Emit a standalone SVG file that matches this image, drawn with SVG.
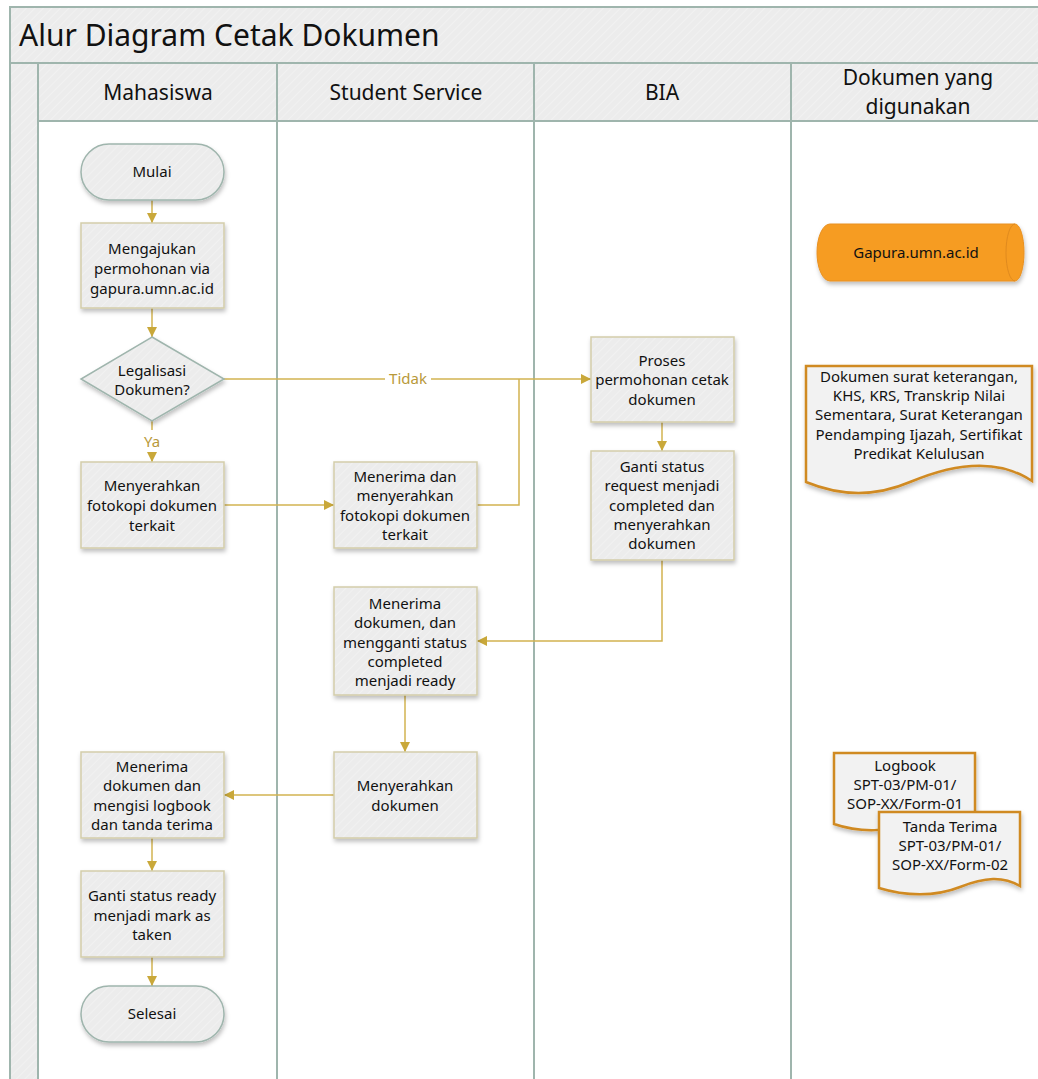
<svg xmlns="http://www.w3.org/2000/svg" width="1038" height="1079" viewBox="0 0 1038 1079">
<defs>
<pattern id="hatch" width="6" height="6" patternUnits="userSpaceOnUse" patternTransform="rotate(45)">
<rect width="6" height="6" fill="#ececec"/>
<line x1="0" y1="0" x2="0" y2="6" stroke="#f3f3f3" stroke-width="1.5"/>
</pattern>
<filter id="sh" x="-10%" y="-10%" width="130%" height="130%">
<feDropShadow dx="1" dy="3" stdDeviation="2" flood-color="#000" flood-opacity="0.25"/>
</filter>
<marker id="ah" viewBox="0 0 10 10" refX="10" refY="5" markerWidth="10" markerHeight="10" markerUnits="userSpaceOnUse" orient="auto">
<path d="M0,0 L10,5 L0,10 Z" fill="#c9a83a"/>
</marker>
<style>
.lane{fill:none;stroke:#9fb5ad;stroke-width:2}
.hdr{font-family:"Noto Sans","Open Sans",sans-serif;font-size:21px;fill:#111;text-anchor:middle}
.t{font-family:"Noto Sans","Open Sans",sans-serif;font-size:15px;fill:#111;text-anchor:middle}
.box{fill:url(#hatch);stroke:#d3cdaa;stroke-width:1.5;filter:url(#sh)}
.term{fill:url(#hatch);stroke:#9fb5ad;stroke-width:1.5;filter:url(#sh)}
.doc{fill:#f2f2f2;stroke:#d08a22;stroke-width:2.5;filter:url(#sh)}
.c{fill:none;stroke:#d2b350;stroke-width:1.5}
.ca{fill:none;stroke:#d2b350;stroke-width:1.5;marker-end:url(#ah)}
.lbl{font-family:"Noto Sans","Open Sans",sans-serif;font-size:15px;fill:#b8993a;text-anchor:middle}
</style>
</defs>
<rect width="1038" height="1079" fill="#fff"/>
<g id="pool">
<rect x="10" y="7" width="1040" height="1090" fill="url(#hatch)"/>
<rect x="38" y="121" width="1012" height="980" fill="#fff"/>
<rect x="10" y="7" width="1040" height="1090" class="lane"/>
<line x1="10" y1="63" x2="1038" y2="63" class="lane"/>
<line x1="38" y1="121" x2="1038" y2="121" class="lane"/>
<line x1="38" y1="63" x2="38" y2="1079" class="lane"/>
<line x1="277" y1="63" x2="277" y2="1079" class="lane"/>
<line x1="534" y1="63" x2="534" y2="1079" class="lane"/>
<line x1="791" y1="63" x2="791" y2="1079" class="lane"/>
<text x="19" y="46" font-family="Noto Sans, Open Sans, sans-serif" font-size="30" fill="#111">Alur Diagram Cetak Dokumen</text>
<text class="hdr" x="158" y="100">Mahasiswa</text>
<text class="hdr" x="406" y="100">Student Service</text>
<text class="hdr" x="662" y="100">BIA</text>
<text class="hdr" x="918" y="85">Dokumen yang</text>
<text class="hdr" x="918" y="114">digunakan</text>
</g>
<g id="connectors">
<line class="ca" x1="152" y1="200" x2="152" y2="223"/>
<line class="ca" x1="152" y1="308" x2="152" y2="337"/>
<line class="c" x1="152" y1="421" x2="152" y2="430"/>
<line class="ca" x1="152" y1="452" x2="152" y2="462"/>
<text class="lbl" x="152" y="447">Ya</text>
<line class="c" x1="224" y1="379" x2="385" y2="379"/>
<line class="ca" x1="431" y1="379" x2="591" y2="379"/>
<text class="lbl" x="408" y="384">Tidak</text>
<line class="ca" x1="224" y1="505" x2="334" y2="505"/>
<polyline class="c" points="477,505 519,505 519,379"/>
<line class="ca" x1="662" y1="422" x2="662" y2="451"/>
<polyline class="ca" points="662,560 662,641 477,641"/>
<line class="ca" x1="405" y1="695" x2="405" y2="752"/>
<line class="ca" x1="334" y1="795" x2="224" y2="795"/>
<line class="ca" x1="152" y1="838" x2="152" y2="871"/>
<line class="ca" x1="152" y1="957" x2="152" y2="986"/>
</g>
<g id="mulai">
<rect class="term" x="81" y="144" width="143" height="56" rx="28"/>
<text class="t" x="152" y="177">Mulai</text>
</g>
<g id="mengajukan">
<rect class="box" x="81" y="223" width="143" height="85"/>
<text class="t" x="152" y="254">Mengajukan</text>
<text class="t" x="152" y="274">permohonan via</text>
<text class="t" x="152" y="294">gapura.umn.ac.id</text>
</g>
<g id="legalisasi">
<polygon points="152,337 224,379 152,421 81,379" fill="url(#hatch)" stroke="#9fb5ad" stroke-width="1.5" filter="url(#sh)"/>
<text class="t" x="152" y="376">Legalisasi</text>
<text class="t" x="152" y="395">Dokumen?</text>
</g>
<g id="menyerahkan-fotokopi">
<rect class="box" x="81" y="462" width="143" height="86"/>
<text class="t" x="152" y="491">Menyerahkan</text>
<text class="t" x="152" y="511">fotokopi dokumen</text>
<text class="t" x="152" y="531">terkait</text>
</g>
<g id="menerima-menyerahkan">
<rect class="box" x="334" y="462" width="143" height="86"/>
<text class="t" x="405" y="482">Menerima dan</text>
<text class="t" x="405" y="501">menyerahkan</text>
<text class="t" x="405" y="521">fotokopi dokumen</text>
<text class="t" x="405" y="540">terkait</text>
</g>
<g id="proses">
<rect class="box" x="591" y="337" width="143" height="85"/>
<text class="t" x="662" y="366">Proses</text>
<text class="t" x="662" y="385">permohonan cetak</text>
<text class="t" x="662" y="405">dokumen</text>
</g>
<g id="ganti-request">
<rect class="box" x="591" y="451" width="143" height="109"/>
<text class="t" x="662" y="472">Ganti status</text>
<text class="t" x="662" y="491">request menjadi</text>
<text class="t" x="662" y="511">completed dan</text>
<text class="t" x="662" y="530">menyerahkan</text>
<text class="t" x="662" y="549">dokumen</text>
</g>
<g id="menerima-dokumen-ss">
<rect class="box" x="334" y="587" width="143" height="108"/>
<text class="t" x="405" y="609">Menerima</text>
<text class="t" x="405" y="628">dokumen, dan</text>
<text class="t" x="405" y="648">mengganti status</text>
<text class="t" x="405" y="667">completed</text>
<text class="t" x="405" y="686">menjadi ready</text>
</g>
<g id="menyerahkan-dokumen">
<rect class="box" x="334" y="752" width="143" height="86"/>
<text class="t" x="405" y="791">Menyerahkan</text>
<text class="t" x="405" y="811">dokumen</text>
</g>
<g id="menerima-logbook">
<rect class="box" x="81" y="752" width="143" height="86"/>
<text class="t" x="152" y="772">Menerima</text>
<text class="t" x="152" y="791">dokumen dan</text>
<text class="t" x="152" y="811">mengisi logbook</text>
<text class="t" x="152" y="830">dan tanda terima</text>
</g>
<g id="ganti-ready">
<rect class="box" x="81" y="871" width="143" height="86"/>
<text class="t" x="152" y="901">Ganti status ready</text>
<text class="t" x="152" y="921">menjadi mark as</text>
<text class="t" x="152" y="940">taken</text>
</g>
<g id="selesai">
<rect class="term" x="81" y="986" width="143" height="56" rx="28"/>
<text class="t" x="152" y="1019">Selesai</text>
</g>
<g id="gapura">
<path d="M830,224 H1015 A9,28.5 0 0 1 1015,281 H830 A13,28.5 0 0 1 830,224 Z" fill="#f69c22" stroke="#e89020" stroke-width="1" filter="url(#sh)"/>
<path d="M1015,224 A9,28.5 0 0 0 1015,281" fill="none" stroke="#e08a1e" stroke-width="1"/>
<text class="t" x="916" y="258">Gapura.umn.ac.id</text>
</g>
<g id="dokumen-surat">
<path class="doc" d="M806,366 H1032 V481 C995,456 950,465 910,482 C875,497 840,496 806,482 Z"/>
<text class="t" x="919" y="382">Dokumen surat keterangan,</text>
<text class="t" x="919" y="401">KHS, KRS, Transkrip Nilai</text>
<text class="t" x="919" y="420">Sementara, Surat Keterangan</text>
<text class="t" x="919" y="440">Pendamping Ijazah, Sertifikat</text>
<text class="t" x="919" y="459">Predikat Kelulusan</text>
</g>
<g id="logbook">
<path class="doc" d="M834,753 H975 V820 C958,810 940,812 915,822 C890,832 860,833 834,824 Z"/>
<text class="t" x="905" y="771">Logbook</text>
<text class="t" x="905" y="790">SPT-03/PM-01/</text>
<text class="t" x="905" y="809">SOP-XX/Form-01</text>
</g>
<g id="tanda-terima">
<path class="doc" d="M879,812 H1020 V886 C1003,876 985,877 960,887 C935,897 905,896 879,888 Z"/>
<text class="t" x="950" y="832">Tanda Terima</text>
<text class="t" x="950" y="851">SPT-03/PM-01/</text>
<text class="t" x="950" y="870">SOP-XX/Form-02</text>
</g>
</svg>
